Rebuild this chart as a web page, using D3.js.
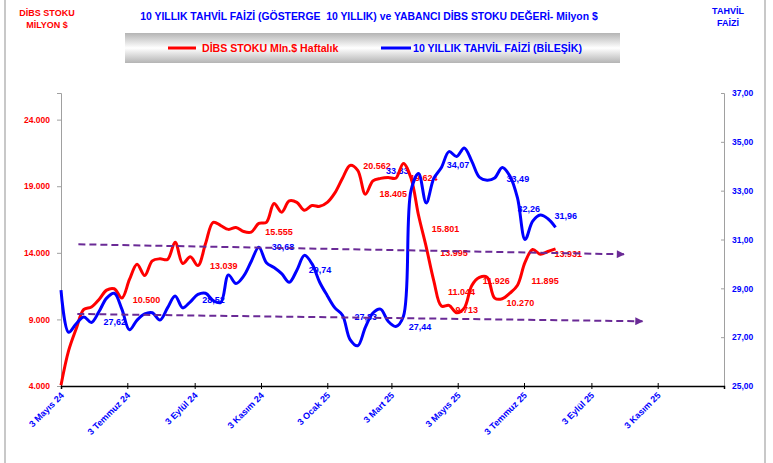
<!DOCTYPE html>
<html>
<head>
<meta charset="utf-8">
<script src="https://cdn.jsdelivr.net/npm/d3@7"></script>
<style>
body { margin: 0; background: #fff; }
text { font-family: "Liberation Sans", Arial, sans-serif; font-weight: bold; white-space: pre; }
</style>
</head>
<body>
<svg id="chart" width="773" height="463"></svg>
<script>
// weekly series, first week 3 May 2024
var startDate = "2024-05-03";
var stockValues = [4050, 6650, 8300, 9750, 9930, 10500, 11200, 11300, 10600, 12000,
    13150, 12300, 13400, 13550, 13500, 14800, 13200, 13700, 13039, 14700,
    16290, 16050, 15760, 15900, 15600, 15555, 16210, 16290, 17700, 17050,
    17900, 17790, 17200, 17550, 17490, 17790, 18500, 19600, 20562, 20190,
    18405, 19400, 19590, 19660, 19600, 20710, 19624, 16800, 14450, 11900,
    10000, 10050, 9500, 9850, 11550, 12150, 12170, 10600, 10550, 10970,
    11570, 13300, 14250, 13890, 14100, 14300];
var yieldValues = [28.93, 27.2, 27.55, 27.83, 27.6, 28.05, 28.6, 28.8, 28.15, 27.3,
    27.7, 27.95, 28.0, 27.7, 28.2, 28.69, 28.2, 28.45, 28.75, 28.8,
    28.5, 28.42, 29.55, 29.2, 29.5, 30.1, 30.68, 30.05, 29.85, 29.6,
    29.25, 29.74, 30.35, 30.0, 29.25, 28.7, 28.2, 27.9, 26.9, 26.65,
    27.4, 27.99, 28.15, 27.65, 27.44, 27.85, 33.0, 33.7, 32.5, 33.5,
    33.95, 34.6, 34.4, 34.75, 34.2, 33.55, 33.43, 33.52, 33.95, 33.6,
    32.7, 31.0, 31.75, 32.0, 31.85, 31.5];

var xTickDates = ["2024-05-03", "2024-07-03", "2024-09-03", "2024-11-03", "2025-01-03",
    "2025-03-03", "2025-05-03", "2025-07-03", "2025-09-03", "2025-11-03"];
var xTickLabels = ["3 Mayıs 24", "3 Temmuz 24", "3 Eylül 24", "3 Kasım 24", "3 Ocak 25",
    "3 Mart 25", "3 Mayıs 25", "3 Temmuz 25", "3 Eylül 25", "3 Kasım 25"];
var leftTicks = [4000, 9000, 14000, 19000, 24000];
var rightTicks = [25, 27, 29, 31, 33, 35, 37];

// data labels: [date, value]
var stockLabels = [["2024-07-08", 10500], ["2024-09-17", 13039], ["2024-11-07", 15555],
    ["2025-02-05", 20562], ["2025-02-20", 18405], ["2025-03-20", 19624], ["2025-04-09", 15801],
    ["2025-04-17", 13995], ["2025-04-24", 11044], ["2025-05-01", 9713], ["2025-05-26", 11926],
    ["2025-06-17", 10270], ["2025-07-10", 11895], ["2025-07-31", 13931]];
var yieldLabels = [["2024-06-11", 27.62], ["2024-09-10", 28.52], ["2024-11-13", 30.68],
    ["2024-12-17", 29.74], ["2025-01-28", 27.83], ["2025-02-26", 33.83], ["2025-03-19", 27.44],
    ["2025-04-23", 34.07], ["2025-06-17", 33.49], ["2025-06-27", 32.26], ["2025-07-31", 31.96]];

// trend arrows
var trendStock = [["2024-05-19", 14640], ["2025-10-03", 13890]];
var trendYield = [["2024-05-18", 27.95], ["2025-10-20", 27.65]];

var parse = d3.timeParse("%Y-%m-%d");
var trLocale = d3.formatLocale({decimal: ",", thousands: ".", grouping: [3], currency: ["", ""]});
var fmtStock = trLocale.format(",.0f");
var fmtYield = trLocale.format(".2f");

var red = "#ff0000", blue = "#0000ff", purple = "#6a2a96";

var svg = d3.select("#chart");

var x = d3.scaleTime().domain([parse("2024-05-03"), parse("2026-01-03")]).range([61, 724]);
var yL = d3.scaleLinear().domain([4000, 26000]).range([386, 93]);
var yR = d3.scaleLinear().domain([25, 37]).range([386, 93]);

var t0 = parse(startDate);
var dates = d3.range(stockValues.length).map(function (i) { return d3.timeDay.offset(t0, 7 * i); });

// outer frame
svg.append("line").attr("x1", 5).attr("x2", 5).attr("y1", 0).attr("y2", 463).attr("stroke", "#c8c8c8").attr("stroke-width", 2);
svg.append("line").attr("x1", 765).attr("x2", 765).attr("y1", 0).attr("y2", 463).attr("stroke", "#c8c8c8").attr("stroke-width", 2);

// titles
svg.append("text").attr("x", 47).attr("y", 16).attr("text-anchor", "middle").attr("fill", red).attr("font-size", 9).text("DİBS STOKU");
svg.append("text").attr("x", 47).attr("y", 28).attr("text-anchor", "middle").attr("fill", red).attr("font-size", 9).text("MİLYON $");
svg.append("text").attr("x", 369).attr("y", 20).attr("text-anchor", "middle").attr("fill", blue).attr("font-size", 10.4)
    .text("10 YILLIK TAHVİL FAİZİ (GÖSTERGE  10 YILLIK) ve YABANCI DİBS STOKU DEĞERİ- Milyon $");
svg.append("text").attr("x", 728).attr("y", 14).attr("text-anchor", "middle").attr("fill", blue).attr("font-size", 9).text("TAHVİL");
svg.append("text").attr("x", 728).attr("y", 26).attr("text-anchor", "middle").attr("fill", blue).attr("font-size", 9).text("FAİZİ");

// legend box
var grad = svg.append("defs").append("linearGradient").attr("id", "lgBg").attr("x1", 0).attr("x2", 0).attr("y1", 0).attr("y2", 1);
grad.append("stop").attr("offset", "0%").attr("stop-color", "#b4b4b4");
grad.append("stop").attr("offset", "50%").attr("stop-color", "#ffffff");
grad.append("stop").attr("offset", "100%").attr("stop-color", "#b4b4b4");
svg.append("rect").attr("x", 125).attr("y", 33).attr("width", 495).attr("height", 30).attr("fill", "url(#lgBg)");
svg.append("line").attr("x1", 168).attr("x2", 196).attr("y1", 48).attr("y2", 48).attr("stroke", red).attr("stroke-width", 3);
svg.append("text").attr("x", 202).attr("y", 52).attr("fill", red).attr("font-size", 10.6).text("DİBS STOKU Mln.$ Haftalık");
svg.append("line").attr("x1", 381).attr("x2", 411).attr("y1", 48).attr("y2", 48).attr("stroke", blue).attr("stroke-width", 3);
svg.append("text").attr("x", 413).attr("y", 52).attr("fill", blue).attr("font-size", 10.6).text("10 YILLIK TAHVİL FAİZİ (BİLEŞİK)");

// axes
var gL = svg.append("g").attr("transform", "translate(61,0)")
    .call(d3.axisLeft(yL).tickValues(leftTicks).tickFormat(fmtStock).tickSize(4).tickPadding(7));
gL.select(".domain").attr("stroke", "#a0a0a0");
gL.selectAll(".tick line").attr("stroke", "#a0a0a0");
gL.selectAll(".tick text").attr("fill", red).attr("font-size", 8.5).attr("font-family", null);

var gR = svg.append("g").attr("transform", "translate(724,0)")
    .call(d3.axisRight(yR).tickValues(rightTicks).tickFormat(fmtYield).tickSize(-3).tickPadding(8));
gR.select(".domain").attr("stroke", "#a0a0a0");
gR.selectAll(".tick line").attr("stroke", "#a0a0a0");
gR.selectAll(".tick text").attr("fill", blue).attr("font-size", 8.5).attr("font-family", null);

var gX = svg.append("g").attr("transform", "translate(0,386)")
    .call(d3.axisBottom(x).tickValues(xTickDates.map(parse)).tickFormat(function (d, i) { return xTickLabels[i]; }).tickSize(3));
gX.select(".domain").attr("stroke", "#000").attr("stroke-width", 1.5);
gX.selectAll(".tick line").attr("stroke", "#000").attr("y1", -3).attr("y2", 3);
gX.selectAll(".tick text").attr("fill", blue).attr("font-size", 9).attr("font-family", null)
    .attr("text-anchor", "end").attr("dy", null).attr("y", 0)
    .attr("transform", "translate(3,10) rotate(-45)");

// data labels (under the lines)
svg.append("g").selectAll("text").data(stockLabels).enter().append("text")
    .attr("x", function (d) { return x(parse(d[0])); })
    .attr("y", function (d) { return yL(d[1]); })
    .attr("dy", "0.35em").attr("fill", red).attr("font-size", 9)
    .text(function (d) { return fmtStock(d[1]); });
svg.append("g").selectAll("text").data(yieldLabels).enter().append("text")
    .attr("x", function (d) { return x(parse(d[0])); })
    .attr("y", function (d) { return yR(d[1]); })
    .attr("dy", "0.35em").attr("fill", blue).attr("font-size", 9)
    .text(function (d) { return fmtYield(d[1]); });

// series lines
var lineStock = d3.line().x(function (d, i) { return x(dates[i]); }).y(function (d) { return yL(d); })
    .curve(d3.curveCatmullRom.alpha(0.5));
var lineYield = d3.line().x(function (d, i) { return x(dates[i]); }).y(function (d) { return yR(d); })
    .curve(d3.curveCatmullRom.alpha(0.5));

svg.append("path").datum(stockValues).attr("d", lineStock).attr("fill", "none")
    .attr("stroke", red).attr("stroke-width", 3).attr("stroke-linejoin", "round");
svg.append("path").datum(yieldValues).attr("d", lineYield).attr("fill", "none")
    .attr("stroke", blue).attr("stroke-width", 3).attr("stroke-linejoin", "round");

// dashed trend arrows
svg.select("defs").append("marker").attr("id", "arrowHead")
    .attr("viewBox", "0 0 10 10").attr("refX", 9).attr("refY", 5)
    .attr("markerWidth", 4.5).attr("markerHeight", 4).attr("markerUnits", "strokeWidth").attr("orient", "auto")
    .append("path").attr("d", "M0,0 L10,5 L0,10 Z").attr("fill", purple);

function drawTrend(pts, yScale) {
    svg.append("line")
        .attr("x1", x(parse(pts[0][0]))).attr("y1", yScale(pts[0][1]))
        .attr("x2", x(parse(pts[1][0]))).attr("y2", yScale(pts[1][1]))
        .attr("stroke", purple).attr("stroke-width", 2).attr("stroke-dasharray", "7,4")
        .attr("marker-end", "url(#arrowHead)");
}
drawTrend(trendStock, yL);
drawTrend(trendYield, yR);
</script>
</body>
</html>
